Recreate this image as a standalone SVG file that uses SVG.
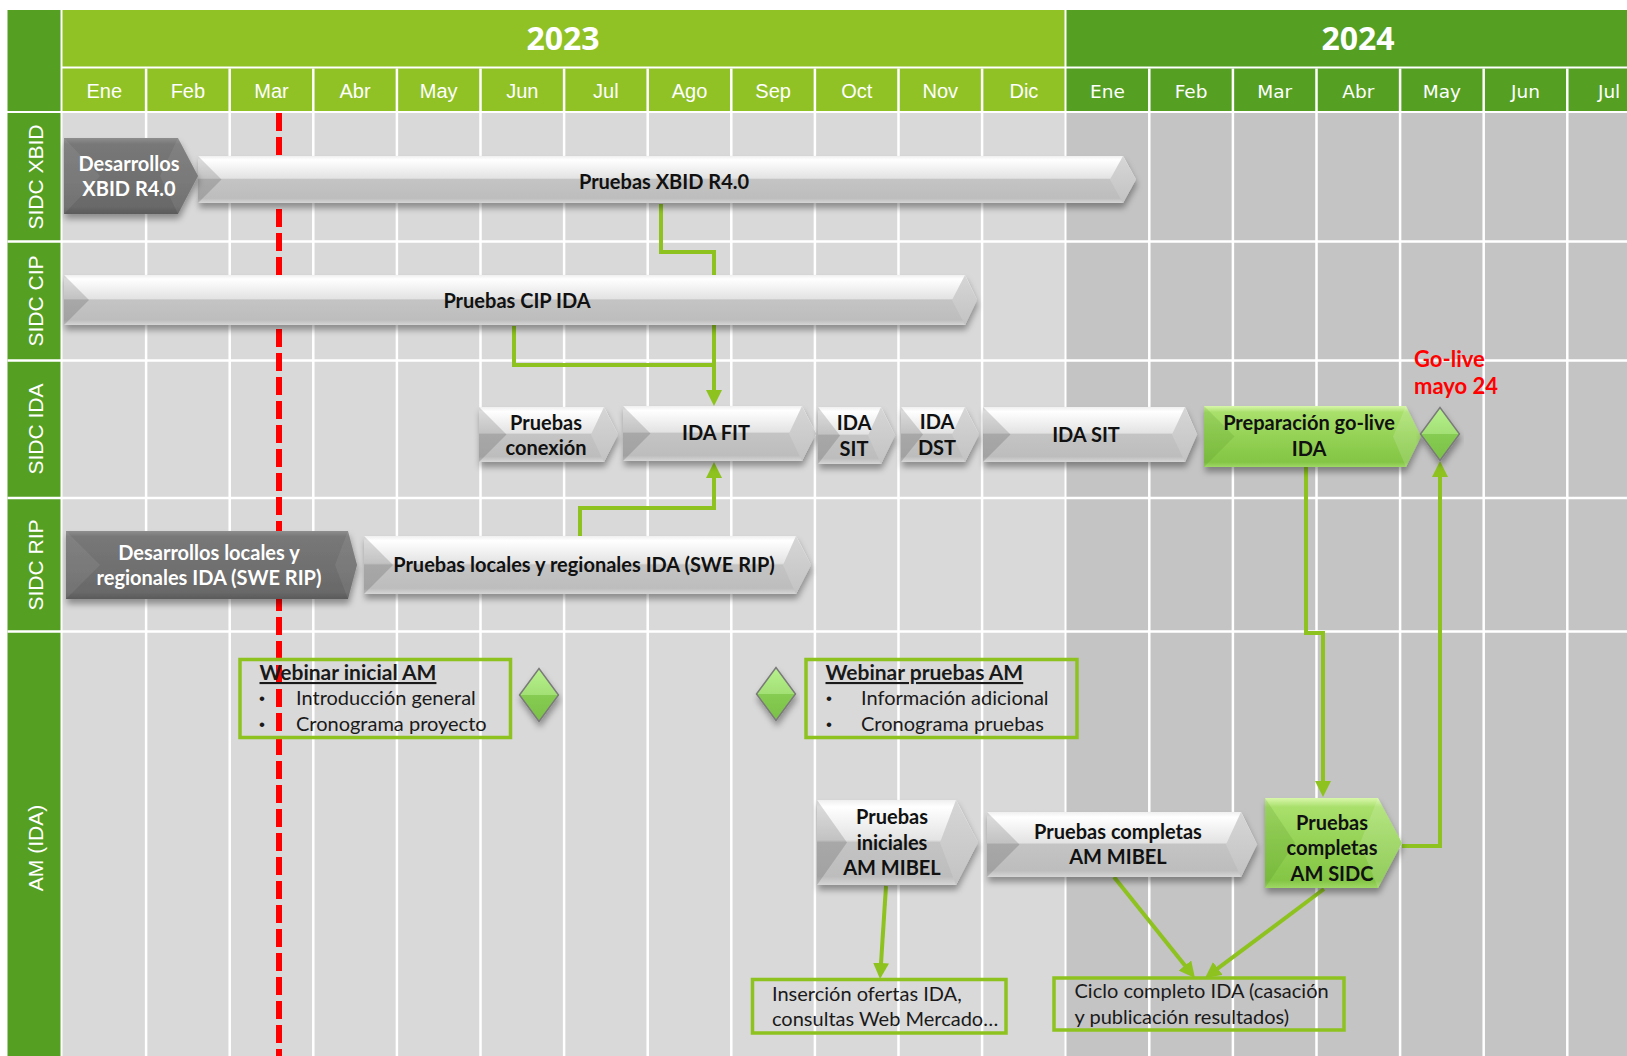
<svg xmlns="http://www.w3.org/2000/svg" width="1627" height="1056" viewBox="0 0 1627 1056">
<defs>
<linearGradient id="gL" x1="0" y1="0" x2="0" y2="1">
<stop offset="0" stop-color="#efefef"/><stop offset="0.08" stop-color="#ffffff"/><stop offset="0.47" stop-color="#e3e3e3"/><stop offset="0.5" stop-color="#c4c4c4"/><stop offset="0.9" stop-color="#bdbdbd"/><stop offset="1" stop-color="#d6d6d6"/>
</linearGradient>
<linearGradient id="gLr" x1="0" y1="0" x2="0" y2="1">
<stop offset="0" stop-color="#d6d6d6"/><stop offset="1" stop-color="#c3c3c3"/>
</linearGradient>
<linearGradient id="gD" x1="0" y1="0" x2="0" y2="1">
<stop offset="0" stop-color="#8e8e8e"/><stop offset="0.08" stop-color="#787878"/><stop offset="0.9" stop-color="#696969"/><stop offset="1" stop-color="#5a5a5a"/>
</linearGradient>
<linearGradient id="gG" x1="0" y1="0" x2="0" y2="1">
<stop offset="0" stop-color="#d9f7ab"/><stop offset="0.1" stop-color="#a9e06c"/><stop offset="0.5" stop-color="#94d255"/><stop offset="0.92" stop-color="#84c545"/><stop offset="1" stop-color="#9fd866"/>
</linearGradient>
<linearGradient id="gM" x1="0" y1="0" x2="0" y2="1">
<stop offset="0" stop-color="#aef07e"/><stop offset="0.5" stop-color="#96dc62"/><stop offset="0.5" stop-color="#86cc52"/><stop offset="1" stop-color="#7cc048"/>
</linearGradient>
<filter id="sh" x="-10%" y="-20%" width="120%" height="170%">
<feDropShadow dx="1" dy="5" stdDeviation="3" flood-color="#000" flood-opacity="0.35"/>
</filter>
<marker id="ah" markerUnits="userSpaceOnUse" markerWidth="16" markerHeight="16" viewBox="0 0 16 16" refX="10" refY="8" orient="auto">
<path d="M0,0 L16,8 L0,16 z" fill="#8dc21f"/>
</marker>
</defs>
<style>
.yr{font-family:"Open Sans","Liberation Sans",sans-serif;font-weight:700;font-size:32px;fill:#fff;text-anchor:middle}
.m23{font-family:"Liberation Sans",Arial,sans-serif;font-size:20px;fill:#fff;text-anchor:middle}
.m24{font-family:"DejaVu Sans",sans-serif;font-size:18.5px;fill:#fff;text-anchor:middle}
.rl{font-family:"Liberation Sans",Arial,sans-serif;font-size:21px;fill:#fff;text-anchor:middle}
.bt{font-family:Lato,"Open Sans",sans-serif;font-weight:700;font-size:20px;fill:#111;text-anchor:middle}
.wt{fill:#fff}
.tx{font-family:Lato,"Open Sans",sans-serif;font-size:20px;fill:#1a1a1a}
.hd{font-weight:700;font-size:21px;text-decoration:underline}
.bu{font-family:"Liberation Sans",Arial,sans-serif;font-size:17px;fill:#1a1a1a}
.gv{font-family:Lato,"Open Sans",sans-serif;font-weight:700;font-size:22px;fill:#ff0000}
.con{fill:none;stroke:#8dc21f;stroke-width:4}
.box{fill:none;stroke:#8dc21f;stroke-width:3.5}
.grid{fill:none;stroke:#fff;stroke-width:2.5}
.lb{fill:url(#gL)}
.lf{fill:#000;opacity:0.14}
.lr{fill:url(#gLr)}
.db{fill:url(#gD)}
.df{fill:#fff;opacity:0.07}
.gb{fill:url(#gG)}
.gf{fill:#3a7a10;opacity:0.14}
.gr{fill:#fff;opacity:0.14}
.ms{fill:url(#gM);stroke:#7a7a7a;stroke-width:1.5}
.mt{fill:#fff;opacity:0.12}
</style>

<g id="grid">
<rect width="1627" height="1056" fill="#fff"/>
<rect x="7.5" y="10" width="53" height="101" fill="#55a023"/>
<rect x="7.5" y="113" width="53" height="943" fill="#55a023"/>
<rect x="62.5" y="10" width="1002" height="56.5" fill="#90c226"/>
<rect x="1066.5" y="10" width="561" height="56.5" fill="#55a023"/>
<rect x="62.5" y="68.5" width="1002" height="42.5" fill="#90c226"/>
<rect x="1066.5" y="68.5" width="561" height="42.5" fill="#55a023"/>
<rect x="62.5" y="113" width="1002" height="943" fill="#d9d9d9"/>
<rect x="1066.5" y="113" width="561" height="943" fill="#c4c4c4"/>
<path class="grid" d="M146.1,68.5V1056 M229.7,68.5V1056 M313.3,68.5V1056 M396.9,68.5V1056 M480.5,68.5V1056 M564.1,68.5V1056 M647.7,68.5V1056 M731.3,68.5V1056 M814.9,68.5V1056 M898.5,68.5V1056 M982.1,68.5V1056 M1149.3,68.5V1056 M1232.9,68.5V1056 M1316.5,68.5V1056 M1400.1,68.5V1056 M1483.7,68.5V1056 M1567.3,68.5V1056"/>
<path class="grid" d="M7.5,241.5H1627 M7.5,360.5H1627 M7.5,498H1627 M7.5,631.5H1627"/>
<text class="yr" x="563" y="50">2023</text>
<text class="yr" x="1358" y="50">2024</text>
<text class="m23" x="104.3" y="98">Ene</text>
<text class="m23" x="187.9" y="98">Feb</text>
<text class="m23" x="271.5" y="98">Mar</text>
<text class="m23" x="355.1" y="98">Abr</text>
<text class="m23" x="438.7" y="98">May</text>
<text class="m23" x="522.3" y="98">Jun</text>
<text class="m23" x="605.9" y="98">Jul</text>
<text class="m23" x="689.5" y="98">Ago</text>
<text class="m23" x="773.1" y="98">Sep</text>
<text class="m23" x="856.7" y="98">Oct</text>
<text class="m23" x="940.3" y="98">Nov</text>
<text class="m23" x="1023.9" y="98">Dic</text>
<text class="m24" x="1107.5" y="98">Ene</text>
<text class="m24" x="1191.1" y="98">Feb</text>
<text class="m24" x="1274.7" y="98">Mar</text>
<text class="m24" x="1358.3" y="98">Abr</text>
<text class="m24" x="1441.9" y="98">May</text>
<text class="m24" x="1525.5" y="98">Jun</text>
<text class="m24" x="1609.1" y="98">Jul</text>
<text class="rl" transform="translate(43,177) rotate(-90)">SIDC XBID</text>
<text class="rl" transform="translate(43,301) rotate(-90)">SIDC CIP</text>
<text class="rl" transform="translate(43,429) rotate(-90)">SIDC IDA</text>
<text class="rl" transform="translate(43,565) rotate(-90)">SIDC RIP</text>
<text class="rl" transform="translate(43,848) rotate(-90)">AM (IDA)</text>
<line x1="279" y1="113" x2="279" y2="1056" stroke="#ff0000" stroke-width="6" stroke-dasharray="18 6"/>
</g>

<g id="connectors">
<path class="con" d="M661,204 V252 H714 V400" marker-end="url(#ah)"/>
<path class="con" d="M514,326 V365 H714"/>
<path class="con" d="M580,536 V508 H714 V468" marker-end="url(#ah)"/>
<path class="con" d="M1306,467 V633 H1323 V791" marker-end="url(#ah)"/>
<path class="con" d="M1402,846 H1440 V467" marker-end="url(#ah)"/>
<path class="con" d="M886,886 L880.4,973" marker-end="url(#ah)"/>
<path class="con" d="M1114,877 L1191.2,973.3" marker-end="url(#ah)"/>
<path class="con" d="M1324,889 L1209.8,974.4" marker-end="url(#ah)"/>
</g>

<g id="n-pruebas-xbid">
<g filter="url(#sh)"><polygon class="lb" points="198,156 1123,156 1136,179.5 1123,203 198,203"/></g>
<polygon class="lf" points="198,156 221.5,179.5 198,203"/>
<polygon class="lr" points="1123,156 1136,179.5 1123,203 1110,179.5"/>
<text class="bt" x="664" y="189">Pruebas XBID R4.0</text>
</g>

<g id="n-desarrollos-xbid">
<g filter="url(#sh)"><polygon class="db" points="64,138 178,138 198,176 178,214 64,214"/></g>
<polygon class="df" points="64,138 100,176 64,214"/>
<polygon class="df" points="178,138 198,176 178,214 160,176"/>
<text class="bt wt" x="129" y="171">Desarrollos</text>
<text class="bt wt" x="129" y="196">XBID R4.0</text>
</g>

<g id="n-pruebas-cip">
<g filter="url(#sh)"><polygon class="lb" points="64,275 965,275 977,300 965,325 64,325"/></g>
<polygon class="lf" points="64,275 89,300 64,325"/>
<polygon class="lr" points="965,275 977,300 965,325 952,300"/>
<text class="bt" x="517" y="308">Pruebas CIP IDA</text>
</g>

<g id="n-pruebas-conexion">
<g filter="url(#sh)"><polygon class="lb" points="479,407 604,407 618,434.5 604,462 479,462"/></g>
<polygon class="lf" points="479,407 506.5,434.5 479,462"/>
<polygon class="lr" points="604,407 618,434.5 604,462 591,434.5"/>
<text class="bt" x="546" y="429.5">Pruebas</text>
<text class="bt" x="546" y="454.5">conexión</text>
</g>

<g id="n-ida-fit">
<g filter="url(#sh)"><polygon class="lb" points="623,406 802,406 816,433.5 802,461 623,461"/></g>
<polygon class="lf" points="623,406 650.5,433.5 623,461"/>
<polygon class="lr" points="802,406 816,433.5 802,461 789,433.5"/>
<text class="bt" x="716" y="440">IDA FIT</text>
</g>

<g id="n-ida-sit-corto">
<g filter="url(#sh)"><polygon class="lb" points="818,407 881,407 895,435.5 881,464 818,464"/></g>
<polygon class="lf" points="818,407 840,435.5 818,464"/>
<polygon class="lr" points="881,407 895,435.5 881,464 868,435.5"/>
<text class="bt" x="854" y="430">IDA</text>
<text class="bt" x="854" y="456">SIT</text>
</g>

<g id="n-ida-dst">
<g filter="url(#sh)"><polygon class="lb" points="901,407 965,407 979,434.5 965,462 901,462"/></g>
<polygon class="lf" points="901,407 923,434.5 901,462"/>
<polygon class="lr" points="965,407 979,434.5 965,462 952,434.5"/>
<text class="bt" x="937" y="429">IDA</text>
<text class="bt" x="937" y="455">DST</text>
</g>

<g id="n-ida-sit">
<g filter="url(#sh)"><polygon class="lb" points="983,407 1185,407 1197,434.5 1185,462 983,462"/></g>
<polygon class="lf" points="983,407 1010.5,434.5 983,462"/>
<polygon class="lr" points="1185,407 1197,434.5 1185,462 1172,434.5"/>
<text class="bt" x="1086" y="442">IDA SIT</text>
</g>

<g id="n-preparacion-golive">
<g filter="url(#sh)"><polygon class="gb" points="1204,406 1406,406 1421,436.5 1406,467 1204,467"/></g>
<polygon class="gf" points="1204,406 1234.5,436.5 1204,467"/>
<polygon class="gr" points="1406,406 1421,436.5 1406,467 1393,436.5"/>
<text class="bt" x="1309" y="430">Preparación go-live</text>
<text class="bt" x="1309" y="456">IDA</text>
</g>

<g id="n-golive">
<g filter="url(#sh)"><polygon class="ms" points="1420.5,434 1440,407.5 1459.5,434 1440,460.5"/></g>
<polygon class="mt" points="1421.5,434 1440,409 1458.5,434"/>
<text class="gv" x="1414" y="367">Go-live</text>
<text class="gv" x="1414" y="394">mayo 24</text>
</g>

<g id="n-desarrollos-rip">
<g filter="url(#sh)"><polygon class="db" points="66,531 348,531 357,565 348,599 66,599"/></g>
<polygon class="df" points="66,531 100,565 66,599"/>
<polygon class="df" points="348,531 357,565 348,599 335,565"/>
<text class="bt wt" x="209" y="560">Desarrollos locales y</text>
<text class="bt wt" x="209" y="585">regionales IDA (SWE RIP)</text>
</g>

<g id="n-pruebas-rip">
<g filter="url(#sh)"><polygon class="lb" points="364,536 796,536 811,565 796,594 364,594"/></g>
<polygon class="lf" points="364,536 393,565 364,594"/>
<polygon class="lr" points="796,536 811,565 796,594 783,565"/>
<text class="bt" x="584" y="572">Pruebas locales y regionales IDA (SWE RIP)</text>
</g>

<g id="n-webinar-inicial">
<rect class="box" x="240" y="659.5" width="270.5" height="78"/>
<text class="tx hd" x="259.5" y="680">Webinar inicial AM</text>
<text class="bu" x="259" y="704">•</text>
<text class="tx" x="296" y="705">Introducción general</text>
<text class="bu" x="259" y="730">•</text>
<text class="tx" x="296" y="731">Cronograma proyecto</text>
</g>

<g id="n-hito-webinar-inicial">
<g filter="url(#sh)"><polygon class="ms" points="519.5,695 539,668.5 558.5,695 539,721.5"/></g>
<polygon class="mt" points="520.5,695 539,670 557.5,695"/>
</g>

<g id="n-hito-webinar-pruebas">
<g filter="url(#sh)"><polygon class="ms" points="756.5,694 776,667.5 795.5,694 776,720.5"/></g>
<polygon class="mt" points="757.5,694 776,669 794.5,694"/>
</g>

<g id="n-webinar-pruebas">
<rect class="box" x="806" y="659.5" width="271" height="78"/>
<text class="tx hd" x="825.5" y="680">Webinar pruebas AM</text>
<text class="bu" x="826" y="704">•</text>
<text class="tx" x="861" y="705">Información adicional</text>
<text class="bu" x="826" y="730">•</text>
<text class="tx" x="861" y="731">Cronograma pruebas</text>
</g>

<g id="n-pruebas-iniciales-mibel">
<g filter="url(#sh)"><polygon class="lb" points="817,800 956,800 978,842.5 956,885 817,885"/></g>
<polygon class="lf" points="817,800 847,842.5 817,885"/>
<polygon class="lr" points="956,800 978,842.5 956,885 940,842.5"/>
<text class="bt" x="892" y="824">Pruebas</text>
<text class="bt" x="892" y="850">iniciales</text>
<text class="bt" x="892" y="875">AM MIBEL</text>
</g>

<g id="n-pruebas-completas-mibel">
<g filter="url(#sh)"><polygon class="lb" points="987,812 1241,812 1257,844.5 1241,877 987,877"/></g>
<polygon class="lf" points="987,812 1019.5,844.5 987,877"/>
<polygon class="lr" points="1241,812 1257,844.5 1241,877 1226,844.5"/>
<text class="bt" x="1118" y="839">Pruebas completas</text>
<text class="bt" x="1118" y="864">AM MIBEL</text>
</g>

<g id="n-pruebas-completas-sidc">
<g filter="url(#sh)"><polygon class="gb" points="1265,798 1378,798 1402,843 1378,888 1265,888"/></g>
<polygon class="gf" points="1265,798 1295,843 1265,888"/>
<polygon class="gr" points="1378,798 1402,843 1378,888 1360,843"/>
<text class="bt" x="1332" y="830">Pruebas</text>
<text class="bt" x="1332" y="855">completas</text>
<text class="bt" x="1332" y="881">AM SIDC</text>
</g>

<g id="n-insercion-ofertas">
<rect class="box" x="752.5" y="979.5" width="253.5" height="53.5"/>
<text class="tx" x="772" y="1000.5">Inserción ofertas IDA,</text>
<text class="tx" x="772" y="1026">consultas Web Mercado…</text>
</g>

<g id="n-ciclo-completo">
<rect class="box" x="1054" y="978" width="290" height="52"/>
<text class="tx" x="1074.5" y="998">Ciclo completo IDA (casación</text>
<text class="tx" x="1074.5" y="1024">y publicación resultados)</text>
</g>
</svg>
